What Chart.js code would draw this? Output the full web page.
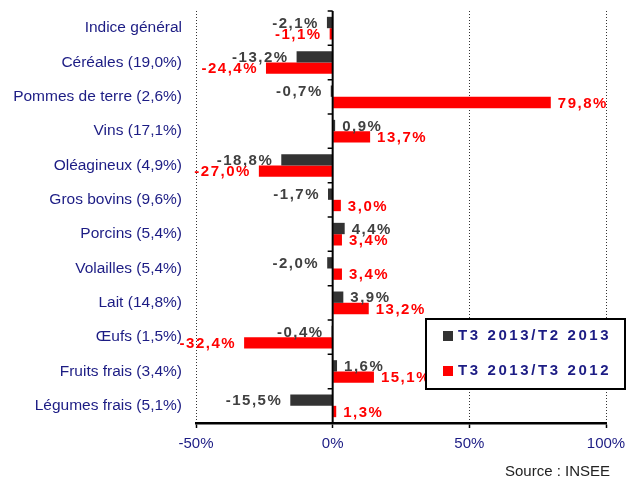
<!DOCTYPE html>
<html>
<head>
<meta charset="utf-8">
<script src="https://cdn.jsdelivr.net/npm/chart.js@4.4.1/dist/chart.umd.min.js"></script>
<style>
  html, body { margin: 0; padding: 0; background: #fff; }
  #wrap { width: 637px; height: 483px; }
</style>
</head>
<body>
<div id="wrap"><canvas id="chart"></canvas></div>
<script>
// Prix agricoles : variation T3 2013, par produit (poids entre parenthèses).
const categories = [
  'Indice général', 'Céréales (19,0%)', 'Pommes de terre (2,6%)', 'Vins (17,1%)',
  'Oléagineux (4,9%)', 'Gros bovins (9,6%)', 'Porcins (5,4%)', 'Volailles (5,4%)',
  'Lait (14,8%)', 'Œufs (1,5%)', 'Fruits frais (3,4%)', 'Légumes frais (5,1%)',
];
const seriesNames = ['T3 2013/T2 2013', 'T3 2013/T3 2012'];
const quarterChange = [-2.1, -13.2, -0.7, 0.9, -18.8, -1.7, 4.4, -2.0, 3.9, -0.4, 1.6, -15.5];
const yearChange    = [-1.1, -24.4, 79.8, 13.7, -27.0, 3.0, 3.4, 3.4, 13.2, -32.4, 15.1, 1.3];
const xTicks = [-50, 0, 50, 100];
const sourceText = 'Source : INSEE';

const NAVY = '#1c1c84';
const DARK = '#333333';
const RED = '#ff0000';
const FONT = "'Liberation Sans', Arial, sans-serif";

const fmt = v => v.toFixed(1).replace('.', ',') + '%';

// Zero line, value labels, legend box and source note
const overlay = {
  id: 'overlay',
  afterDatasetsDraw(chart) {
    const { ctx, chartArea: a, scales: { x } } = chart;
    const x0 = x.getPixelForValue(0);
    ctx.save();
    ctx.strokeStyle = '#000';
    ctx.lineWidth = 2;
    ctx.beginPath();
    ctx.moveTo(x0, a.top);
    ctx.lineTo(x0, a.bottom);
    ctx.stroke();
    // small ticks between categories on the zero line
    const step = (a.bottom - a.top) / categories.length;
    ctx.lineWidth = 1.5;
    ctx.beginPath();
    for (let i = 0; i < categories.length; i++) {
      const yy = a.top + i * step;
      ctx.moveTo(x0 - 5, yy);
      ctx.lineTo(x0, yy);
    }
    ctx.stroke();

    // value labels
    ctx.font = 'bold 15px ' + FONT;
    ctx.letterSpacing = '1.5px';
    ctx.textBaseline = 'middle';
    chart.data.datasets.forEach((ds, di) => {
      const meta = chart.getDatasetMeta(di);
      ctx.fillStyle = di === 0 ? '#404040' : RED;
      meta.data.forEach((el, i) => {
        const v = ds.data[i];
        if (v < 0) {
          ctx.textAlign = 'right';
          ctx.fillText(fmt(v), el.x - 8, el.y + 1);
        } else {
          ctx.textAlign = 'left';
          ctx.fillText(fmt(v), el.x + 7, el.y + 1);
        }
      });
    });
    ctx.restore();
  },
  afterDraw(chart) {
    const { ctx } = chart;
    ctx.save();
    // legend
    ctx.fillStyle = '#fff';
    ctx.fillRect(426, 319, 199, 70);
    ctx.strokeStyle = '#000';
    ctx.lineWidth = 2;
    ctx.strokeRect(426, 319, 199, 70);
    ctx.font = 'bold 15px ' + FONT;
    ctx.letterSpacing = '2.6px';
    ctx.textBaseline = 'middle';
    ctx.textAlign = 'left';
    chart.data.datasets.forEach((ds, di) => {
      const yy = 336 + di * 35;
      ctx.fillStyle = ds.backgroundColor;
      ctx.fillRect(443, yy - 5, 10, 10);
      ctx.fillStyle = NAVY;
      ctx.fillText(ds.label, 458, yy);
    });
    // source
    ctx.letterSpacing = '0px';
    ctx.font = '15px ' + FONT;
    ctx.fillStyle = '#222';
    ctx.textAlign = 'right';
    ctx.fillText(sourceText, 610, 472);
    ctx.restore();
  },
};

new Chart(document.getElementById('chart'), {
  type: 'bar',
  data: {
    labels: categories,
    datasets: [
      { label: seriesNames[0], data: quarterChange, backgroundColor: DARK },
      { label: seriesNames[1], data: yearChange, backgroundColor: RED },
    ],
  },
  options: {
    indexAxis: 'y',
    responsive: true,
    maintainAspectRatio: false,
    animation: false,
    barPercentage: 1,
    categoryPercentage: 0.66,
    layout: { padding: { top: 11, right: 31, bottom: 0, left: 0 } },
    plugins: { legend: { display: false }, tooltip: { enabled: false } },
    scales: {
      x: {
        type: 'linear',
        min: xTicks[0],
        max: xTicks[xTicks.length - 1],
        afterBuildTicks: s => { s.ticks = xTicks.map(v => ({ value: v })); },
        afterFit: s => { s.height = 60; },
        ticks: {
          color: NAVY,
          font: { size: 15, family: FONT },
          padding: 7,
          maxRotation: 0,
          callback: v => v + '%',
        },
        grid: {
          color: c => (c.tick && c.tick.value === 0 ? 'rgba(0,0,0,0)' : '#333'),
          lineWidth: 1,
          tickColor: '#000',
          tickLength: 5,
          tickWidth: 1.5,
        },
        border: { display: true, color: '#000', width: 2.5, dash: [1, 2] },
      },
      y: {
        type: 'category',
        afterFit: s => { s.width = 196; s.paddingTop = 0; s.paddingBottom = 0; },
        ticks: {
          color: NAVY,
          font: { size: 15.5, family: FONT },
          padding: 14,
        },
        grid: { display: false, drawTicks: false },
        border: { display: false },
      },
    },
  },
  plugins: [overlay],
});
</script>
</body>
</html>
